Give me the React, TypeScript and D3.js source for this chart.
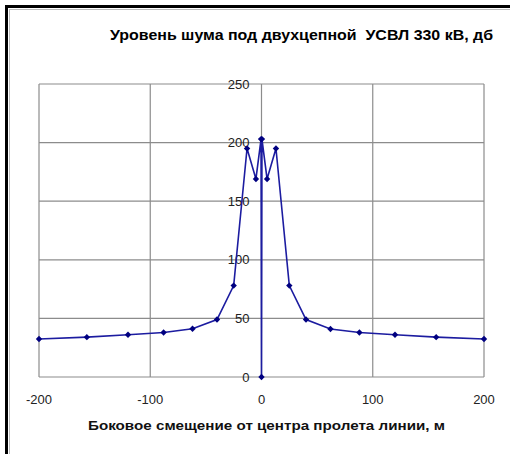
import React from "react";
import * as d3 from "d3";

const xValues = [-200, -157, -120, -88, -62, -40, -25, -13, -5, -0.4, 0, 0.4, 5, 13, 25, 40, 62, 88, 120, 157, 200];
const yValues = [32.4, 34, 36, 38, 41.2, 49, 78, 195, 169, 203, 0, 203, 169, 195, 78, 49, 41, 38, 36, 34, 32.4];
const xTicks = [-200, -100, 0, 100, 200];
const yTicks = [0, 50, 100, 150, 200, 250];
const titleText = "Уровень шума под двухцепной  УСВЛ 330 кВ, дб";
const xTitleText = "Боковое смещение от центра пролета линии, м";

const W = 510;
const H = 454;
const plot = { left: 39, right: 484, top: 84, bottom: 377 };
const FONT = "'Liberation Sans', Arial, sans-serif";

export default function App() {
  const x = d3.scaleLinear().domain([-200, 200]).range([plot.left, plot.right]);
  const y = d3.scaleLinear().domain([0, 250]).range([plot.bottom, plot.top]);
  const pts = xValues.map((v, i) => [v, yValues[i]] as [number, number]);
  const line = d3
    .line<[number, number]>()
    .x((d) => x(d[0]))
    .y((d) => y(d[1]));
  const diamond = "M0,-3.2L3.2,0L0,3.2L-3.2,0Z";

  return (
    <svg
      width={W}
      height={H}
      style={{ position: "absolute", left: 0, top: 0, background: "#fff" }}
      fontFamily={FONT}
    >
      <rect x={0} y={0} width={W} height={H} fill="#fff" />
      {/* outer frame (top & left visible) */}
      <line x1={5} x2={W} y1={6.5} y2={6.5} stroke="#000" strokeWidth={3} />
      <line x1={6.5} x2={6.5} y1={5} y2={H} stroke="#000" strokeWidth={3} />
      <line x1={9} x2={W} y1={9.5} y2={9.5} stroke="#bbb" strokeWidth={1} />
      <line x1={9.5} x2={9.5} y1={9} y2={H} stroke="#bbb" strokeWidth={1} />

      <text
        x={110}
        y={39.5}
        fontSize={14.5}
        fontWeight="bold"
        fill="#000"
        textLength={383}
        lengthAdjust="spacingAndGlyphs"
        style={{ whiteSpace: "pre" }}
      >
        {titleText}
      </text>

      {/* gridlines */}
      {yTicks.map((t) => (
        <line
          key={"h" + t}
          x1={plot.left}
          x2={plot.right}
          y1={y(t)}
          y2={y(t)}
          stroke="#8c8c8c"
          strokeWidth={1.2}
        />
      ))}
      {xTicks.map((t) => (
        <line
          key={"v" + t}
          x1={x(t)}
          x2={x(t)}
          y1={plot.top}
          y2={plot.bottom}
          stroke="#8c8c8c"
          strokeWidth={1.2}
        />
      ))}

      {/* y tick labels along x=0 axis */}
      {yTicks.map((t) => (
        <text
          key={"yl" + t}
          x={x(0) - 12}
          y={y(t) + 4.5}
          textAnchor="end"
          fontSize={13}
          fill="#222"
        >
          {t}
        </text>
      ))}

      {/* x tick labels */}
      {xTicks.map((t) => (
        <text key={"xl" + t} x={x(t)} y={404} textAnchor="middle" fontSize={13} fill="#222">
          {t}
        </text>
      ))}

      <path d={line(pts) || ""} fill="none" stroke="#1c1ca0" strokeWidth={1.6} />
      {pts.map((p, i) => (
        <path key={"m" + i} d={diamond} transform={`translate(${x(p[0])},${y(p[1])})`} fill="#000080" />
      ))}

      <text
        x={88}
        y={429.5}
        fontSize={12.5}
        fontWeight="bold"
        fill="#111"
        textLength={357}
        lengthAdjust="spacingAndGlyphs"
      >
        {xTitleText}
      </text>
    </svg>
  );
}
